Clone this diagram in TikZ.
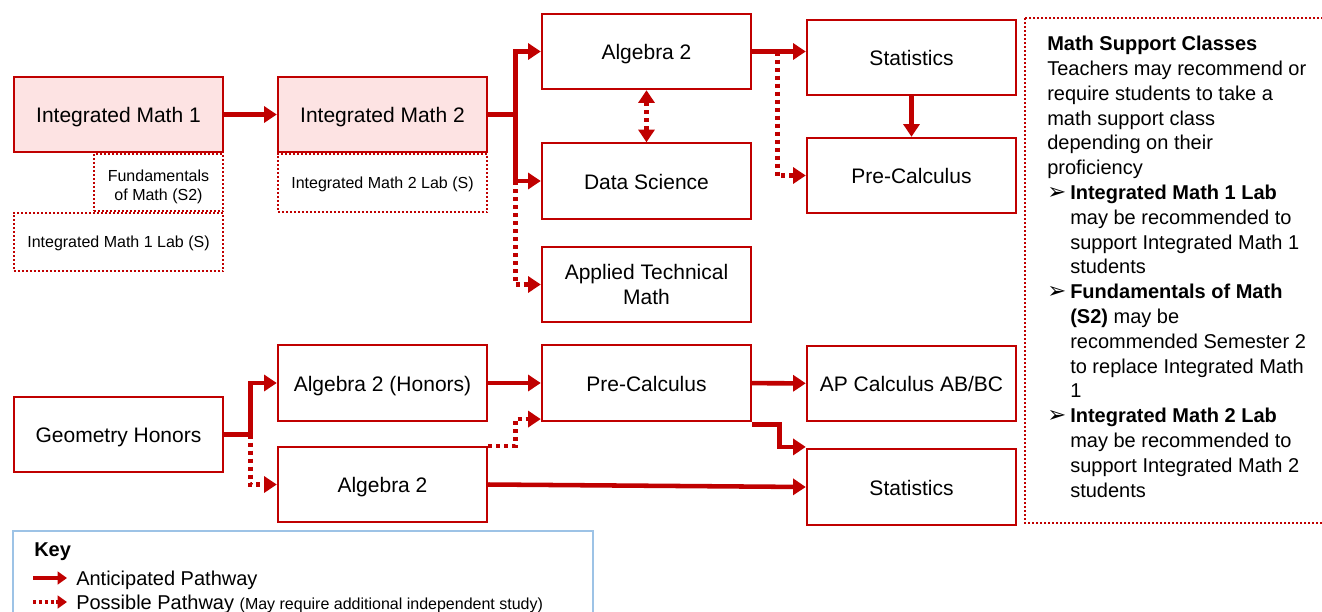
\documentclass[tikz,border=0pt]{standalone}
\usepackage{fontspec}
\setmainfont{Liberation Sans}
\newfontfamily\dingfont{DejaVu Sans}
\usetikzlibrary{arrows.meta,calc}
\definecolor{pathred}{HTML}{C00000}
\definecolor{boxpink}{HTML}{FDE3E3}
\definecolor{keyblue}{HTML}{9DC3E6}
\newcommand{\bul}{\makebox[17.25pt][l]{\dingfont\fontsize{17}{18.6}\selectfont ➢}}
\newcommand{\ind}{\hspace*{17.25pt}}

\begin{document}
\begin{tikzpicture}[x=0.75pt, y=-0.75pt,
  course/.style={draw=pathred, line width=1.6pt, minimum width=157pt, minimum height=56.5pt,
    inner sep=2pt, align=center, text height=15.5pt, text depth=3.5pt,
    font=\fontsize{15.75}{18.75}\selectfont},
  labbox/.style={draw=pathred, line width=1.5pt, dash pattern=on 1.5pt off 1.5pt,
    inner sep=2pt, align=center, font=\fontsize{12}{14.25}\selectfont},
  pathway/.style={draw=pathred, line width=3.4pt, -{Triangle[length=9.5pt,width=12pt]}},
  maybe/.style={pathway, dash pattern=on 3pt off 3pt}]
  \useasboundingbox (0,0) rectangle (1322,611);

  % support classes under the first year
  \node[labbox, minimum width=97pt, minimum height=43pt] (fund) at (158.5,182.5) {};
  \node[align=center, inner sep=0pt, font=\fontsize{12}{14.25}\selectfont] (fundtxt) at (158.5,187) {Fundamentals\\of Math (S2)};
  \node[labbox, minimum width=157pt, minimum height=44pt, text height=11.5pt, text depth=2.9pt] (im1lab) at (118.5,242) {Integrated Math 1 Lab (S)};
  \node[labbox, minimum width=157pt, minimum height=44pt, text height=11.5pt, text depth=2.9pt] (im2lab) at (382.5,183) {Integrated Math 2 Lab (S)};

  % integrated track
  \node[course, fill=boxpink] (im1) at (118.5,114.5) {Integrated Math 1};
  \node[course, fill=boxpink] (im2) at (382.5,114.5) {Integrated Math 2};
  \node[course] (alg2) at (646.5,51.5) {Algebra 2};
  \node[course] (datasci) at (646.5,181) {Data Science};
  \node[course, text height=, text depth=] (applied) at (646.5,284.5) {Applied Technical\\Math};
  \node[course] (stats) at (911.5,57.5) {Statistics};
  \node[course] (precalc) at (911.5,175.5) {Pre-Calculus};

  % honors track
  \node[course] (geomh) at (118.5,434.5) {Geometry Honors};
  \node[course] (alg2h) at (382.5,383) {Algebra 2 (Honors)};
  \node[course] (alg2b) at (382.5,484.5) {Algebra 2};
  \node[course] (precalcb) at (646.5,383) {Pre-Calculus};
  \node[course] (apcalc) at (911.5,383.5) {AP Calculus AB/BC};
  \node[course] (statsb) at (911.5,487) {Statistics};

  % connectors, integrated track
  \draw[pathway] (im1) -- (im2);
  \coordinate (split1) at ($(im2.east)+(27,0)$);
  \draw[pathway] (im2.east) -- (split1) |- (alg2.west);
  \draw[pathway] (split1) |- (datasci.west);
  \draw[maybe] (split1 |- datasci.west) |- (applied.west);
  \draw[maybe, {Triangle[length=9.5pt,width=12pt]}-{Triangle[length=9.5pt,width=12pt]}] (alg2.south) -- (datasci.north);
  \draw[pathway] (alg2.east) -- (alg2.east -| stats.west);
  \draw[maybe] ($(alg2.east)+(25,0)$) |- (precalc.west);
  \draw[pathway] (stats) -- (precalc);

  % connectors, honors track
  \coordinate (split2) at ($(geomh.east)+(26,0)$);
  \draw[pathway] (geomh.east) -- (split2) |- (alg2h.west);
  \draw[maybe] (split2) |- (alg2b.west);
  \draw[pathway] (alg2h) -- (precalcb);
  \draw[maybe] (alg2b.north east) -- ++(27,0) |- ([yshift=2pt]precalcb.south west);
  \draw[pathway] (precalcb) -- (apcalc);
  \draw[pathway] ($(precalcb.south east)+(0,3)$) -- ++(27,0) |- ([yshift=1pt]statsb.north west);
  \draw[pathway] (alg2b.east) -- (statsb.west);

  % support classes panel
  \draw[labbox] (1025,18) rectangle (1335,523);
  \node[anchor=north west, inner sep=0pt, align=left, font=\fontsize{15}{18.6}\selectfont] (support) at (1047,36)
    {\textbf{Math Support Classes}\\
     Teachers may recommend or\\
     require students to take a\\
     math support class\\
     depending on their\\
     proficiency\\
     \bul\textbf{Integrated Math 1 Lab}\\
     \ind may be recommended to\\
     \ind support Integrated Math 1\\
     \ind students\\
     \bul\textbf{Fundamentals of Math}\\
     \ind\textbf{(S2)} may be\\
     \ind recommended Semester 2\\
     \ind to replace Integrated Math\\
     \ind 1\\
     \bul\textbf{Integrated Math 2 Lab}\\
     \ind may be recommended to\\
     \ind support Integrated Math 2\\
     \ind students};

  % key
  \draw[keyblue, line width=1pt] (13,531) rectangle (593,616);
  \node[anchor=west, inner sep=0pt, font=\bfseries\fontsize{15}{18}\selectfont] (keytitle) at (34,552) {Key};
  \coordinate (solidA) at (33,578);
  \coordinate (solidB) at (67,578);
  \coordinate (dotA) at (33,602);
  \coordinate (dotB) at (67,602);
  \draw[pathway, line width=3pt, -{Triangle[length=7pt,width=9.5pt]}] (solidA) -- (solidB);
  \draw[maybe, line width=3pt, dash pattern=on 2.2pt off 2.2pt, -{Triangle[length=7pt,width=9.5pt]}] (dotA) -- (dotB);
  \node[anchor=west, inner sep=0pt, font=\fontsize{15}{18}\selectfont] (solidtxt) at (76,580) {Anticipated Pathway};
  \node[anchor=west, inner sep=0pt, font=\fontsize{15}{18}\selectfont] (dottxt) at (76,604)
    {Possible Pathway {\fontsize{12}{14}\selectfont(May require additional independent study)}};
\end{tikzpicture}
\end{document}
